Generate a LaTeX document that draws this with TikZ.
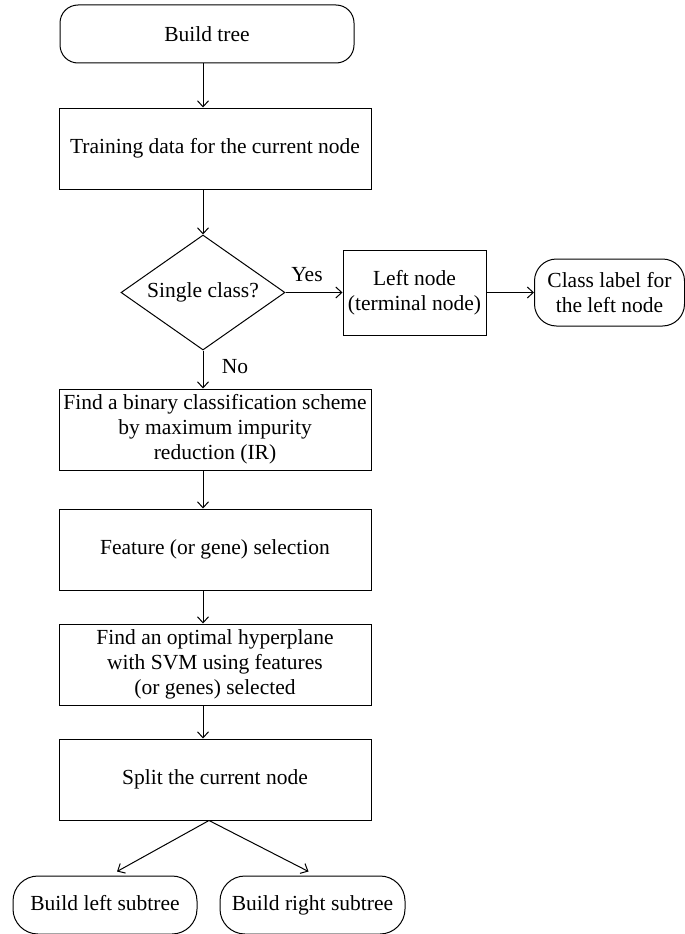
\documentclass[tikz,border=0pt]{standalone}
\usepackage{fontspec}
\setmainfont{Liberation Serif}
\usetikzlibrary{shapes.geometric,arrows.meta}
\tikzstyle{every node}=[font=\fontsize{21.5}{25}\selectfont]
\tikzstyle{box}=[draw, rectangle, minimum width=312pt, minimum height=81pt, align=center, inner sep=2pt]
\tikzstyle{term}=[draw, rectangle, rounded corners=22pt, minimum height=58pt, align=center, inner sep=2pt]
\tikzstyle{decision}=[draw, diamond, aspect=1.43, minimum width=164pt, minimum height=115pt, inner sep=0pt]
\tikzstyle{flow}=[-{Straight Barb[length=6pt,width=11pt]}]

\begin{document}
\begin{tikzpicture}[x=1pt, y=-1pt, line width=1pt]
\useasboundingbox (0,0) rectangle (685,934);
% Main column
    \node[term, minimum width=294pt, rounded corners=18pt] (start) at (207,34) {Build tree};
    \node[box] (train) at (215,148.5) {Training data for the current node};
    \node[decision] (single) at (203,292.5) {Single class?};
    \node[box] (scheme) at (215,429.5) {Find a binary classification scheme\\by maximum impurity\\reduction (IR)};
    \node[box] (feat) at (215,549.5) {Feature (or gene) selection};
    \node[box] (svm) at (215,664.5) {Find an optimal hyperplane\\with SVM using features\\(or genes) selected};
    \node[box] (split) at (215,779.5) {Split the current node};
% Terminal branch
    \node[box, minimum width=143pt, minimum height=85pt] (leaf) at (414.5,292.5) {Left node\\(terminal node)};
    \node[term, minimum width=150pt, minimum height=67pt] (label) at (609.5,292.5) {Class label for\\the left node};
% Subtrees
    \node[term, minimum width=184pt, rounded corners=25pt, text height=16pt, text depth=5pt] (lsub) at (105,905) {Build left subtree};
    \node[term, minimum width=185pt, rounded corners=25pt, text height=16pt, text depth=5pt] (rsub) at (312.5,905) {Build right subtree};
% Labels
    \node (yes) at (307,275) {Yes};
    \node (no) at (235,367) {No};
% Arrows
    \draw[flow] (start.south -| single.north) -- (train.north -| single.north);
    \draw[flow] (train.south -| single.north) -- (single.north);
    \draw[flow] (single.south) -- (scheme.north -| single.south);
    \draw[flow] (scheme.south -| single.south) -- (feat.north -| single.south);
    \draw[flow] (feat.south -| single.south) -- (svm.north -| single.south);
    \draw[flow] (svm.south -| single.south) -- (split.north -| single.south);
    \draw[flow] (single.east) -- (leaf.west);
    \draw[flow] (leaf.east) -- (label.west);
    \draw[flow] ([xshift=-6pt]split.south) -- ([shift={(12pt,4pt)}]lsub.north);
    \draw[flow] ([xshift=-6pt]split.south) -- ([shift={(-4pt,4pt)}]rsub.north);
\end{tikzpicture}
\end{document}
